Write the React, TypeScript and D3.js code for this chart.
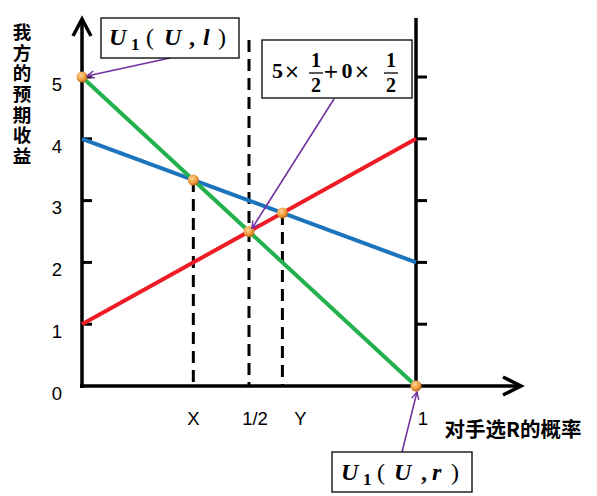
import React from "react";
import * as d3 from "d3";

const probs = [0, 1];
const greenVals = [5, 0];
const blueVals = [4, 2];
const redVals = [1, 4];
const yTicks = [0, 1, 2, 3, 4, 5];
const keyPoints = [
  { p: 0, v: 5 },
  { p: 1 / 3, v: 10 / 3 },
  { p: 0.5, v: 2.5 },
  { p: 0.6, v: 2.8 },
  { p: 1, v: 0 },
];
const xLabels = [
  { p: 1 / 3, label: "X", dx: 0 },
  { p: 0.5, label: "1/2", dx: 6 },
  { p: 0.6, label: "Y", dx: 18 },
  { p: 1, label: "1", dx: 7 },
];
const dashLines = [
  { p: 1 / 3, from: 10 / 3 },
  { p: 0.5, from: 5.6 },
  { p: 0.6, from: 2.8 },
];
const yTitle = "我方的预期收益";
const xTitle = "对手选R的概率";

const x = d3.scaleLinear().domain([0, 1]).range([82, 416]);
const y = d3.scaleLinear().domain([0, 5]).range([386, 77]);

const GREEN = "#22b14c";
const BLUE = "#1c74bd";
const RED = "#ee1c25";
const PURPLE = "#7030a0";
const MATH = "'Liberation Serif', 'DejaVu Serif', serif";
const SYM = "'DejaVu Sans', sans-serif";
const SANS = "'Liberation Sans', Arial, sans-serif";
const CJK = "'Noto Sans CJK SC', sans-serif";

function seg(vals: number[]) {
  const line = d3
    .line<number>()
    .x((_, i) => x(probs[i]))
    .y((d) => y(d));
  return line(vals) || "";
}

export default function App() {
  return (
    <svg width={597} height={496} style={{ position: "absolute", left: 0, top: 0, background: "#fff" }}>
      <defs>
        <radialGradient id="dot" cx="40%" cy="35%" r="70%">
          <stop offset="0%" stopColor="#ffd79a" />
          <stop offset="55%" stopColor="#f0a040" />
          <stop offset="100%" stopColor="#b8600c" />
        </radialGradient>
        <marker id="arr" viewBox="0 0 10 10" refX="9" refY="5" markerWidth="9" markerHeight="9" orient="auto" markerUnits="userSpaceOnUse">
          <path d="M1,1 L9,5 L1,9" fill="none" stroke={PURPLE} strokeWidth={1.6} />
        </marker>
      </defs>

      {/* y-axis title */}
      <text
        x={22}
        y={23}
        fontSize={18.5}
        fontWeight="bold"
        fontFamily={CJK}
        style={{ writingMode: "vertical-rl", letterSpacing: "2.1px" } as React.CSSProperties}
      >
        {yTitle}
      </text>

      {/* y tick labels */}
      {yTicks.map((t) => (
        <text key={t} x={57} y={y(t) + 9} fontSize={18.5} textAnchor="middle" dominantBaseline="middle" fontFamily={SANS}>
          {t}
        </text>
      ))}

      {/* left axis */}
      <line x1={x(0)} y1={y(0) + 2} x2={x(0)} y2={20} stroke="#000" strokeWidth={3.5} />
      <path d={`M${x(0) - 9},${36} L${x(0)},${19} L${x(0) + 9},${36}`} fill="none" stroke="#000" strokeWidth={3.5} />
      {yTicks.filter((t) => t > 0).map((t) => (
        <line key={t} x1={x(0)} x2={x(0) + 10} y1={y(t)} y2={y(t)} stroke="#000" strokeWidth={3} />
      ))}

      {/* bottom axis */}
      <line x1={x(0) - 2} y1={y(0)} x2={520} y2={y(0)} stroke="#000" strokeWidth={3.5} />
      <path d={`M${503},${y(0) - 9} L${521},${y(0)} L${503},${y(0) + 9}`} fill="none" stroke="#000" strokeWidth={3.5} />

      {/* right vertical line */}
      <line x1={x(1)} y1={18} x2={x(1)} y2={y(0)} stroke="#000" strokeWidth={3.5} />
      {yTicks.filter((t) => t > 0).map((t) => (
        <line key={t} x1={x(1)} x2={x(1) + 11} y1={y(t)} y2={y(t)} stroke="#000" strokeWidth={3} />
      ))}

      {/* dashed lines */}
      {dashLines.map((d, i) => (
        <line key={i} x1={x(d.p)} x2={x(d.p)} y1={y(d.from)} y2={y(0)} stroke="#000" strokeWidth={3} strokeDasharray="12,7" />
      ))}

      {/* series */}
      <path d={seg(blueVals)} stroke={BLUE} strokeWidth={4} fill="none" />
      <path d={seg(redVals)} stroke={RED} strokeWidth={4} fill="none" />
      <path d={seg(greenVals)} stroke={GREEN} strokeWidth={4} fill="none" />

      {/* points */}
      {keyPoints.map((k, i) => (
        <circle key={i} cx={x(k.p)} cy={y(k.v)} r={5.5} fill="url(#dot)" />
      ))}

      {/* x labels */}
      {xLabels.map((l, i) => (
        <text key={i} x={x(l.p) + l.dx} y={420} fontSize={18.5} textAnchor="middle" dominantBaseline="middle" fontFamily={SANS}>
          {l.label}
        </text>
      ))}
      <text x={513} y={431} fontSize={20.5} fontWeight="bold" textAnchor="middle" dominantBaseline="middle" fontFamily={CJK}>
        {xTitle}
      </text>

      {/* annotation 1 */}
      <line x1={170} y1={58} x2={x(0) + 5} y2={y(5) - 1} stroke={PURPLE} strokeWidth={1.6} markerEnd="url(#arr)" />
      <rect x={101} y={18} width={138} height={40} fill="#fff" stroke="#000" strokeWidth={1.3} />
      <g fontFamily={MATH} fontWeight="bold" fontSize={24}>
        <text x={109} y={45} fontStyle="italic">U</text>
        <text x={131} y={50} fontSize={17}>1</text>
        <text x={146} y={45} fontWeight="normal">(</text>
        <text x={164} y={45} fontStyle="italic">U</text>
        <text x={189} y={45}>,</text>
        <text x={203} y={45} fontStyle="italic">l</text>
        <text x={218} y={45} fontWeight="normal">)</text>
      </g>

      {/* annotation 2 */}
      <line x1={334} y1={99} x2={x(0.5) + 3} y2={y(2.5) - 3} stroke={PURPLE} strokeWidth={1.6} markerEnd="url(#arr)" />
      <rect x={262} y={40} width={150} height={58} fill="#fff" stroke="#000" strokeWidth={1.3} />
      <g fontFamily={MATH} fontSize={22}>
        <text x={272} y={78} fontWeight="bold">5</text>
        <text x={292} y={78} fontSize={19} fontFamily={SYM} textAnchor="middle">×</text>
        <text x={316} y={67} fontWeight="bold" fontSize={20} textAnchor="middle">1</text>
        <line x1={309} x2={323} y1={73} y2={73} stroke="#000" strokeWidth={1.3} />
        <text x={316} y={92} fontWeight="bold" fontSize={20} textAnchor="middle">2</text>
        <text x={331} y={78} fontSize={19} fontFamily={SYM} textAnchor="middle">+</text>
        <text x={347} y={78} fontWeight="bold" textAnchor="middle">0</text>
        <text x={362} y={78} fontSize={19} fontFamily={SYM} textAnchor="middle">×</text>
        <text x={391} y={67} fontWeight="bold" fontSize={20} textAnchor="middle">1</text>
        <line x1={384} x2={398} y1={73} y2={73} stroke="#000" strokeWidth={1.3} />
        <text x={391} y={92} fontWeight="bold" fontSize={20} textAnchor="middle">2</text>
      </g>

      {/* annotation 3 */}
      <line x1={402} y1={452} x2={x(1) + 1} y2={y(0) + 6} stroke={PURPLE} strokeWidth={1.6} markerEnd="url(#arr)" />
      <rect x={332} y={452} width={140} height={40} fill="#fff" stroke="#000" strokeWidth={1.3} />
      <g fontFamily={MATH} fontWeight="bold" fontSize={24}>
        <text x={341} y={480} fontStyle="italic">U</text>
        <text x={363} y={485} fontSize={17}>1</text>
        <text x={377} y={480} fontWeight="normal">(</text>
        <text x={394} y={480} fontStyle="italic">U</text>
        <text x={421} y={480}>,</text>
        <text x={432} y={480} fontStyle="italic">r</text>
        <text x={451} y={480} fontWeight="normal">)</text>
      </g>
    </svg>
  );
}
